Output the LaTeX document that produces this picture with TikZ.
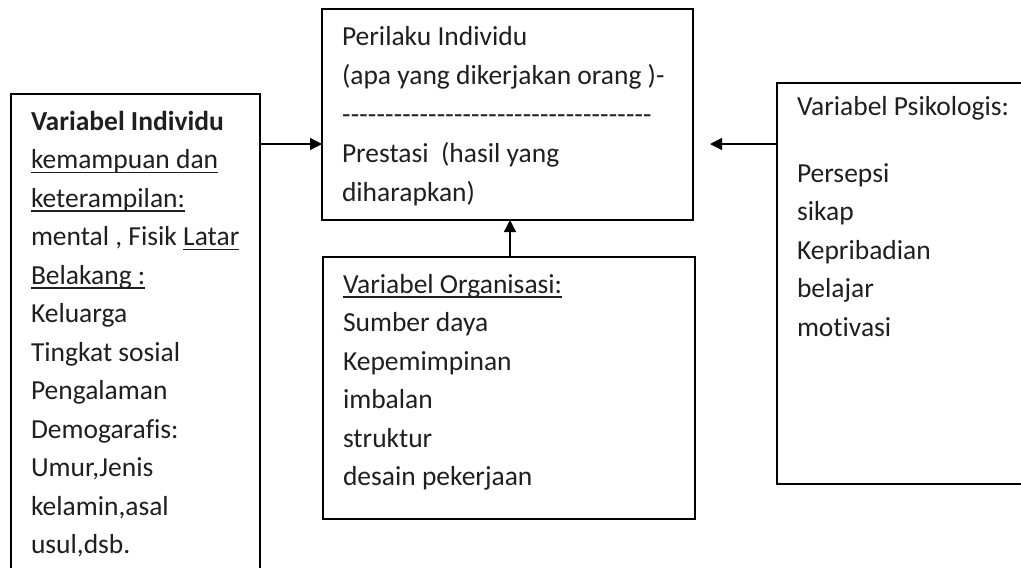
\documentclass[tikz,border=0pt]{standalone}
\usepackage{fontspec}
\setmainfont{Carlito}[Ligatures={TeX,NoCommon}]
\usetikzlibrary{arrows.meta}

% underline at a fixed depth below the baseline
\newcommand\ulx[1]{\setbox0\hbox{#1}\rlap{\rule[-4.8pt]{\wd0}{1.4pt}}\box0}
% a row of hyphens of a given width
\newcommand\hyphenrow[1]{\hbox to #1{\xleaders\hbox{-}\hfill}}

\tikzset{
  box/.style={draw=black, line width=1.3pt, inner sep=0pt, outer sep=0pt,
              anchor=north west},
  txt/.style={anchor=base west, inner sep=0pt, outer sep=0pt,
              font=\fontsize{27.5}{38.5}\selectfont, text=black!88},
  arr/.style={line width=1.3pt, -{Triangle[length=12pt,width=12pt]}},
}

\begin{document}
\begin{tikzpicture}[x=1pt,y=-1pt]
\useasboundingbox (0,0) rectangle (1021,568);
\clip (0,0) rectangle (1021,568);

% boxes
\node[box, minimum width=249pt, minimum height=500pt] (ind) at (11,94) {};
\node[box, minimum width=371pt, minimum height=211pt] (per) at (322,9) {};
\node[box, minimum width=372pt, minimum height=262pt] (org) at (323,257) {};
\node[box, minimum width=270pt, minimum height=401pt] (psi) at (777,83) {};

% left box: individual variables
\node[txt] (i1)  at (31,130)   {\bfseries Variabel Individu};
\node[txt] (i2)  at (31,168.5) {\ulx{kemampuan dan}};
\node[txt] (i3)  at (31,207)   {\ulx{keterampilan:}};
\node[txt] (i4)  at (31,245.5) {mental , Fisik \ulx{Latar}};
\node[txt] (i5)  at (31,284)   {\ulx{Belakang :}};
\node[txt] (i6)  at (31,322.5) {Keluarga};
\node[txt] (i7)  at (31,361)   {Tingkat sosial};
\node[txt] (i8)  at (31,399.5) {Pengalaman};
\node[txt] (i9)  at (31,438)   {Demogarafis:};
\node[txt] (i10) at (31,476.5) {Umur,Jenis};
\node[txt] (i11) at (31,515)   {kelamin,asal};
\node[txt] (i12) at (31,553.5) {usul,dsb.};

% top box: behaviour and performance
\node[txt] (p1) at (342,45)  {Perilaku Individu};
\node[txt] (p2) at (342,84)  {(apa yang dikerjakan orang )-};
\node[txt] (p3) at (342,123) {\hyphenrow{310pt}};
\node[txt] (p4) at (342,162) {Prestasi\ \ (hasil yang};
\node[txt] (p5) at (342,201) {diharapkan)};

% bottom box: organisational variables
\node[txt] (o1) at (343,293)   {\ulx{Variabel Organisasi:}};
\node[txt] (o2) at (343,331.5) {Sumber daya};
\node[txt] (o3) at (343,370)   {Kepemimpinan};
\node[txt] (o4) at (343,408.5) {imbalan};
\node[txt] (o5) at (343,447)   {struktur};
\node[txt] (o6) at (343,485.5) {desain pekerjaan};

% right box: psychological variables
\node[txt] (s1) at (797,115)   {Variabel Psikologis:};
\node[txt] (s2) at (797,182)   {Persepsi};
\node[txt] (s3) at (797,220.5) {sikap};
\node[txt] (s4) at (797,259)   {Kepribadian};
\node[txt] (s5) at (797,297.5) {belajar};
\node[txt] (s6) at (797,336)   {motivasi};

% connectors
\coordinate (ay) at (0,144);
\coordinate (ax) at (510,0);
\coordinate (rtip) at (710,144);
\draw[arr] (ind.east |- ay) -- (per.west |- ay);
\draw[arr] (psi.west |- ay) -- (rtip);
\draw[arr] (org.north -| ax) -- (per.south -| ax);
\end{tikzpicture}
\end{document}
